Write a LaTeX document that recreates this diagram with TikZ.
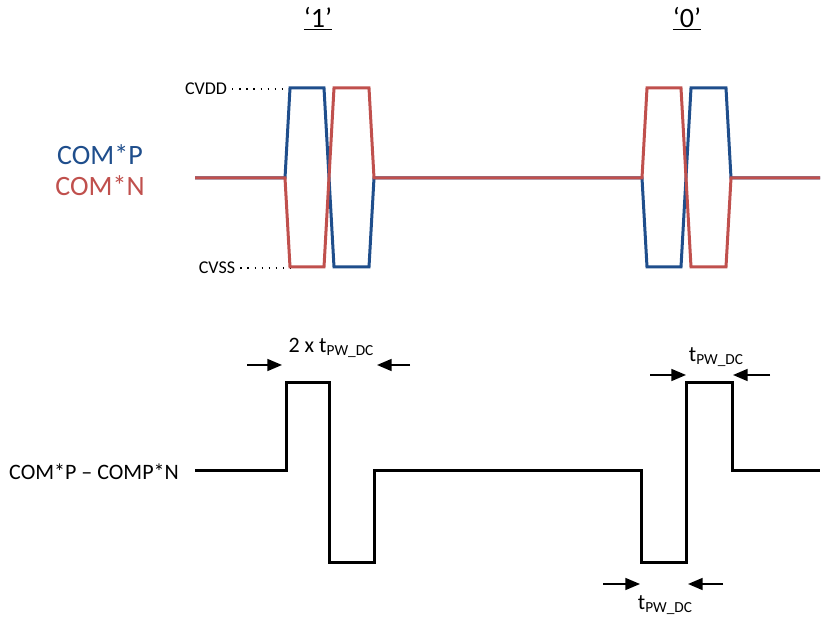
\documentclass[tikz,border=0pt]{standalone}
\usepackage{fontspec}
\setmainfont{Carlito}
\usepackage{tikz}
\usetikzlibrary{arrows.meta}
\usepackage{xcolor}
\definecolor{comblue}{HTML}{1F4E8C}
\definecolor{comred}{HTML}{C0504D}
\newcommand{\tpwdc}{t\raisebox{-0.3ex}{\fontsize{11.5}{13}\selectfont PW\_DC}}

\begin{document}
\begin{tikzpicture}[x=0.75pt,y=0.75pt,yscale=-1,xscale=1,
  wave/.style={line width=2.25pt},
  lead/.style={line width=1.1pt,dash pattern=on 0.9pt off 4.4pt},
  tarrow/.style={line width=1.3pt,-{Triangle[length=11pt,width=9pt]}},
  biglbl/.style={inner sep=0.75pt,font=\fontsize{21}{25}\selectfont},
  midlbl/.style={inner sep=0.75pt,font=\fontsize{16.5}{20}\selectfont},
  smalllbl/.style={inner sep=0.75pt,font=\fontsize{13.5}{16}\selectfont}]
\useasboundingbox (0,0) rectangle (825,623);

%Bit labels
\draw (318,19) node [biglbl] (bitone) {\underline{‘1’}};
\draw (687,19) node [biglbl] (bitzero) {\underline{‘0’}};

%Signal names
\draw (100,155) node [biglbl,text=comblue] (comp) {COM*P};
\draw (100,186) node [biglbl,text=comred] (comn) {COM*N};
\draw (94,472) node [midlbl] (diff) {COM*P – COMP*N};

%Supply levels
\draw (206,89) node [smalllbl] (cvdd) {CVDD};
\draw (217,268) node [smalllbl] (cvss) {CVSS};
\coordinate (cvddend) at (285,89);
\coordinate (cvssend) at (290,268);
\draw [lead] (cvdd.east) ++(4,0) -- (cvddend);
\draw [lead] (cvss.east) ++(4,0) -- (cvssend);

%Waveform: COM*P
\draw [wave,comblue] (195,178) -- (285,178) -- (290,88) -- (324,88) -- (334,267) -- (369,267) -- (374,178)
  -- (642,178) -- (647,267) -- (681,267) -- (691,88) -- (726,88) -- (731,178) -- (820,178) ;
%Waveform: COM*N
\draw [wave,comred] (195,178) -- (285,178) -- (290,267) -- (324,267) -- (334,88) -- (369,88) -- (374,178)
  -- (642,178) -- (647,88) -- (681,88) -- (691,267) -- (726,267) -- (731,178) -- (820,178) ;

%Waveform: difference
\draw [wave] (195,471) -- (286,471) -- (286,383) -- (329,383) -- (329,562) -- (374,562) -- (374,471)
  -- (641,471) -- (641,562) -- (686,562) -- (686,383) -- (732,383) -- (732,471) -- (820,471) ;

%Pulse width arrows
\coordinate (aa) at (247,365); \coordinate (ab) at (282,365);
\coordinate (ac) at (410,365); \coordinate (ad) at (377,365);
\draw [tarrow] (aa) -- (ab);
\draw [tarrow] (ac) -- (ad);
\draw (331,348) node [midlbl] (twolbl) {2 x \tpwdc};

\coordinate (ba) at (650,375); \coordinate (bb) at (686,375);
\coordinate (bc) at (770,375); \coordinate (bd) at (733,375);
\draw [tarrow] (ba) -- (bb);
\draw [tarrow] (bc) -- (bd);
\draw (716,357) node [midlbl] (highlbl) {\tpwdc};

\coordinate (ca) at (603,584); \coordinate (cb) at (640,584);
\coordinate (cc) at (723,584); \coordinate (cd) at (688,584);
\draw [tarrow] (ca) -- (cb);
\draw [tarrow] (cc) -- (cd);
\draw (665,605) node [midlbl] (lowlbl) {\tpwdc};

\end{tikzpicture}
\end{document}
